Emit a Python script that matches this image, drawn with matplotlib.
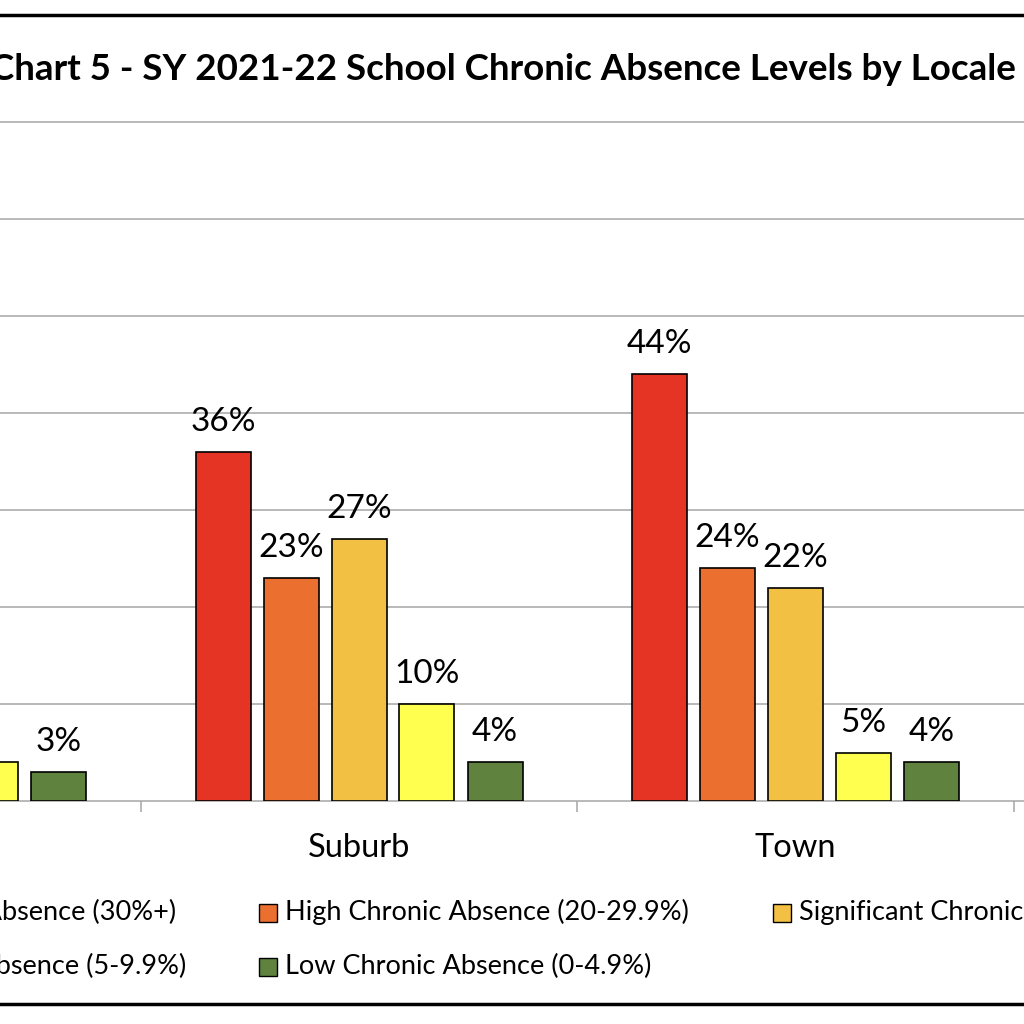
import numpy as np
import matplotlib
matplotlib.use('Agg')
import matplotlib.pyplot as plt
from matplotlib.lines import Line2D
from matplotlib.patches import Rectangle

plt.rcParams['font.family'] = ['Lato', 'DejaVu Sans']

# chart data (values in %), NaN = outside the visible crop
locales = ['City', 'Suburb', 'Town']
levels = ['Extreme Chronic Absence (30%+)',
          'High Chronic Absence (20-29.9%)',
          'Significant Chronic Absence (10-19.9%)',
          'Modest Chronic Absence (5-9.9%)',
          'Low Chronic Absence (0-4.9%)']
extreme = [np.nan, 36, 44]
high = [np.nan, 23, 24]
significant = [np.nan, 27, 22]
modest = [4, 10, 5]
low = [3, 4, 4]
series = [extreme, high, significant, modest, low]
colors = ['#E63424', '#EB6F2E', '#F2C144', '#FFFF4F', '#5F833F']
y_ticks = [0, 10, 20, 30, 40, 50, 60, 70]

W = H = 1024
px_per_cat = 436.5
x0_px = -77.5          # pixel of category 0 centre
px_per_pct = 9.7
base_px = 801

fig = plt.figure(figsize=(10.24, 10.24), dpi=100)
ymax = 72
bottom = (H - base_px) / H
height = ymax * px_per_pct / H
ax = fig.add_axes([0, bottom, 1, height])

step = 68 / px_per_cat
bw = 55 / px_per_cat
xs = np.arange(len(locales))
for i, (vals, c) in enumerate(zip(series, colors)):
    pos = xs + (i - 2) * step
    ax.bar(pos, vals, width=bw, color=c, edgecolor='black', linewidth=1.2, zorder=3)
    for p, v in zip(pos, vals):
        if np.isnan(v):
            continue
        ax.annotate(f'{v:.0f}%', (p, v), xytext=(0, 15), textcoords='offset points',
                    ha='center', va='baseline', fontsize=24, zorder=4)

for s in ['top', 'right', 'left', 'bottom']:
    ax.spines[s].set_visible(False)
for t in y_ticks:
    ax.axhline(t, color='#A6A6A6', linewidth=1.1, zorder=1, clip_on=False)
ax.set_yticks([])

ax.set_xticks(xs)
ax.set_xticklabels(locales, fontsize=23.5)
ax.tick_params(axis='x', length=0, pad=23)
ax.set_xticks(np.arange(-0.5, len(locales) + 0.5), minor=True)
ax.tick_params(axis='x', which='minor', length=8, color='#A6A6A6', width=1.1)
ax.set_xlim((0 - x0_px) / px_per_cat, (W - x0_px) / px_per_cat)
ax.set_ylim(0, ymax)

fig.text(503 / W, 1 - 80 / H, 'Chart 5 - SY 2021-22 School Chronic Absence Levels by Locale',
         ha='center', va='baseline', fontsize=26.5, fontweight='bold')

# legend (two rows, three columns); first column is cut at the left edge
col_px = [-255, 259, 773]
left_ends = [176, 186]
row_px = [920, 974]
for k, (lab, c) in enumerate(zip(levels, colors)):
    r, cl = divmod(k, 3)
    mx = col_px[cl]
    fig.add_artist(Rectangle((mx / W, 1 - (row_px[r] + 2) / H), 18 / W, 18 / H,
                             transform=fig.transFigure, facecolor=c,
                             edgecolor='black', linewidth=1.0))
    if cl == 0:
        fig.text(left_ends[r] / W, 1 - row_px[r] / H, lab, ha='right', va='baseline',
                 fontsize=19.5)
    else:
        fig.text((mx + 26) / W, 1 - row_px[r] / H, lab, ha='left', va='baseline',
                 fontsize=19.5)

for yp in [15, 1004]:
    fig.add_artist(Line2D([0, 1], [1 - yp / H, 1 - yp / H], color='black', linewidth=2.5,
                          transform=fig.transFigure))

fig.savefig('out.png', dpi=100)
